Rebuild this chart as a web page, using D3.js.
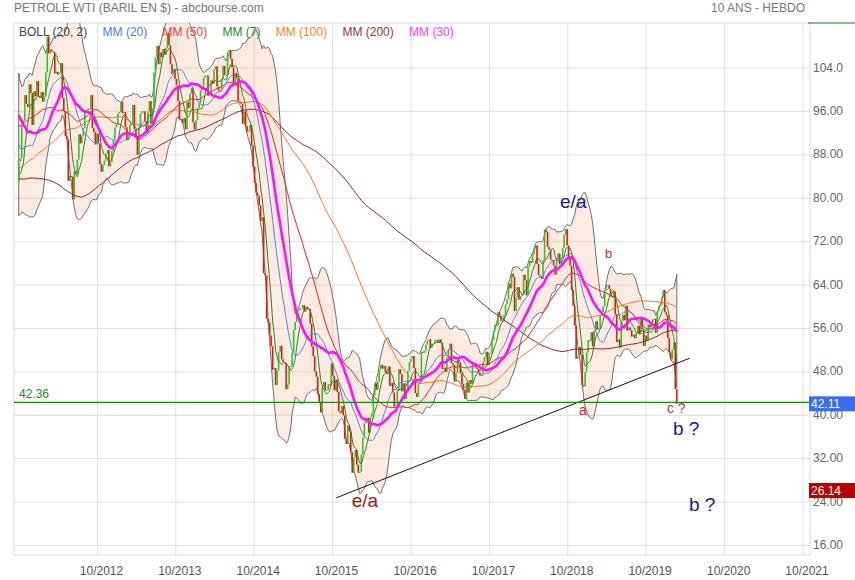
<!DOCTYPE html>
<html><head><meta charset="utf-8">
<script src="https://cdn.jsdelivr.net/npm/d3@7"></script>
<style>body{margin:0;background:#fff;} text{font-family:"Liberation Sans",Arial,sans-serif;}</style>
</head><body><svg id="c" width="855" height="580"></svg>
<script>
const titleText = "PETROLE WTI (BARIL EN $) - abcbourse.com";
const periodText = "10 ANS - HEBDO";

// weekly closes before the visible window (used for the moving averages), from 2007-12-14
const historyStart = "2007-12-14";
const historyCloses = [
91.3,93.3,96.0,
97.9,92.7,90.6,90.7,89.0, 91.8,95.5,98.8,101.8, 105.2,110.2,101.8,101.6, 106.2,110.1,116.7,118.5,
116.3,126.0,126.3,132.2,127.4, 138.5,134.9,134.6,140.2, 145.1,145.1,128.9,123.3, 125.1,115.2,113.8,114.6,115.5,
106.2,101.2,104.6,106.9, 93.9,77.7,71.9,64.2,67.8, 61.0,57.0,49.9,54.4, 40.8,46.3,42.4,37.7,
46.3,40.8,36.5,46.5,41.7, 40.2,37.5,38.9,44.8, 45.5,46.3,51.1,52.4, 52.5,50.1,50.3,51.6,
53.2,58.6,56.3,61.7,66.3, 68.4,72.0,69.6,69.2, 66.7,59.9,63.6,68.0,69.5, 70.9,67.5,73.9,72.7,
68.0,72.0,69.3,66.0, 69.9,71.8,78.5,80.5,77.0, 77.4,76.9,77.5,77.0, 75.5,69.9,73.4,78.1,
79.4,82.8,79.4,74.5,72.9, 71.2,74.1,80.0,79.7, 81.5,81.2,80.7,80.0, 84.9,84.3,83.2,85.1,86.2,
75.1,75.7,70.0,74.0, 71.5,73.8,77.2,78.9, 72.1,76.1,76.0,78.9,79.0, 80.7,75.4,73.5,75.2,
74.6,76.5,73.7,76.5, 81.6,82.7,81.3,81.7,81.4, 86.9,84.9,81.5,83.8, 89.2,87.8,88.0,91.5,91.4,
88.0,91.5,89.1,89.3, 89.0,85.6,86.2,97.9, 104.4,101.2,101.1,105.4, 107.9,112.8,109.7,112.3,113.9,
97.2,99.7,100.1,100.6, 100.2,99.3,93.0,91.2, 95.4,96.2,97.2,99.9,95.7, 86.9,85.4,82.3,85.4,
86.5,87.2,88.0,79.9,79.2, 83.0
];

// visible weekly closes, from 2011-10-14
const startDate = "2011-10-14";
const closes = [
// 2011
86.8,87.4,93.3, 94.3,99.0,97.4,96.8, 101.0,99.4,93.5,99.7,98.8,
// 2012
101.6,98.7,98.5,99.6, 97.8,98.7,103.2,109.8, 106.7,107.4,107.1,106.9,103.0, 103.3,102.8,103.1,104.9,
98.5,96.1,91.5,90.9, 83.2,84.1,84.0,79.8,85.0, 84.5,87.1,91.8,90.1, 91.4,92.9,96.0,96.2,96.5,
96.4,99.0,92.9,92.2, 89.9,91.9,90.1,86.3, 84.9,86.1,86.9,88.3,88.9, 85.9,86.7,88.7,90.8,
// 2013
93.1,93.6,95.6,95.9, 97.8,95.7,95.9,93.1, 90.7,92.0,93.5,93.7,97.2, 92.7,91.3,88.0,93.0,
95.6,96.0,96.0,94.2,92.0, 96.0,97.9,93.7,96.6, 103.2,106.0,108.1,104.7, 106.9,106.0,107.5,106.4,107.7,
110.5,108.2,104.7,102.9, 103.8,102.0,100.8,97.9, 94.6,94.6,93.8,94.8,92.7, 97.7,96.6,99.3,100.3,
// 2014
94.0,92.7,94.4,96.6,97.5, 99.9,100.3,102.2,102.6, 102.6,98.9,99.5,101.7, 101.1,103.7,104.3,100.6,
99.8,100.0,102.0,104.4,102.7, 102.7,106.9,107.3,105.7, 104.1,100.8,103.1,102.1, 97.9,97.7,97.4,93.7,96.0,
93.3,92.3,92.4,93.5, 89.7,85.8,82.8,81.0,80.5, 78.7,75.8,76.5,66.2, 65.8,57.8,57.1,54.7,
// 2015
52.7,48.4,48.7,45.6,48.2, 51.7,52.8,50.3,49.8, 49.6,44.8,45.7,48.9, 49.1,51.6,55.7,57.2,
59.2,59.4,59.7,59.7,60.3, 59.1,60.0,59.6,59.6, 56.9,52.7,50.9,48.1,47.1, 43.9,42.5,40.5,45.2,
46.1,44.6,44.7,45.7, 45.5,49.6,47.3,44.6,46.6, 44.3,40.7,40.4,41.7, 40.0,35.6,34.7,38.1,37.0,
// 2016
33.2,29.4,32.2,33.6, 30.9,29.4,29.6,32.8, 35.9,38.5,39.4,39.5, 36.8,39.7,40.4,43.7,45.9,
44.7,46.2,48.4,49.3, 48.6,49.1,48.0,47.6, 49.0,45.4,46.0,44.2,41.6, 41.8,44.5,48.5,47.6,
44.4,45.9,43.0,44.5,48.2, 49.8,50.4,50.9,48.7, 44.1,43.4,45.7,46.1, 51.7,51.5,51.9,53.0,53.7,
// 2017
54.0,52.4,53.2,53.2, 53.8,53.9,53.4,54.0, 53.3,48.5,48.8,48.0,50.6, 52.2,53.2,49.6,49.3,
46.2,47.8,50.3,49.8, 47.7,45.8,44.7,43.0,46.0, 44.2,46.5,45.8,49.7, 49.6,48.8,48.5,47.9,
47.3,47.5,49.9,50.7,51.7, 49.3,51.5,51.5,53.9, 55.6,56.7,56.6,59.0, 58.4,57.4,57.3,58.5,60.4,
// 2018
61.4,64.3,63.4,66.1, 65.5,59.2,61.7,63.6, 61.3,62.0,62.3,65.9,64.9, 62.1,67.4,68.4,68.1,
69.7,70.7,71.3,67.9, 65.8,65.7,65.1,68.6,74.2, 73.8,71.0,70.5,68.7, 68.5,67.6,65.9,68.7,69.8,
67.8,69.0,70.8,73.3, 74.3,71.3,69.1,67.6, 63.1,60.2,56.5,50.4,50.9, 52.6,51.2,45.6,45.3,
// 2019
48.0,51.6,53.8,53.7, 55.3,52.7,55.6,57.3, 55.8,56.1,58.5,59.0,60.1, 63.1,63.9,64.0,63.3,
61.9,61.7,62.8,58.6,53.5, 54.0,52.5,57.4,58.5, 57.5,60.2,55.6,56.2, 55.7,54.5,54.9,54.2,55.1,
56.5,54.9,58.1,55.9, 52.8,54.7,53.8,56.7, 56.2,57.2,57.7,57.8,55.2, 59.2,60.1,60.4,61.7,
// 2020
63.1,59.0,58.5,54.2,51.6, 50.3,52.1,53.4,44.8, 42.11
];

const yTickValues = [16,24,32,40,48,56,64,72,80,88,96,104];
const xTickYears = [2012,2013,2014,2015,2016,2017,2018,2019,2020,2021];
const levelValue = 42.36;
const lastValue = 42.11;
const minValue = 26.14;
const trendDates = ["2015-11-02","2020-05-04"];
const trendValues = [24.8, 50.5];

const legendLabels = ["BOLL (20, 2)","MM (20)","MM (50)","MM (7)","MM (100)","MM (200)","MM (30)"];
const legendColors = ["#444444","#4d7cf2","#f03c3c","#1e8c1e","#ff7f2a","#a03535","#ff40ff"];

const maPeriods = [200,100,50,20,7,30];
const maColors  = ["#8c1c1c","#ff7020","#e82020","#5080f0","#1a8a1a","#ff10ff"];
const maWidths  = [1,1,1,1,1,2.6];

const annoTexts  = ["e/a","e/a","b","a","c ?","b ?","b ?"];
const annoDates  = ["2018-09-09","2016-01-12","2019-04-07","2018-12-06","2020-01-20","2020-02-17","2020-05-02"];
const annoValues = [78.2,23.15,69.0,40.05,40.4,36.4,22.4];
const annoColors = ["#1a1a80","#aa1111","#cc2a2a","#cc2a2a","#d03030","#1a1a80","#1a1a80"];
const annoSizes  = [19,19,13,14,14,19,19];

// ---------------------------------------------------------------
const L = 14, R = 810, T = 23, B = 555;
const svg = d3.select("#c");
const x = d3.scaleTime().domain([new Date(2012,9,15), new Date(2021,9,15)]).range([97.5, 803]);
const y = d3.scaleLinear().domain([16,104]).range([545.5, 68]);

const H = historyCloses.length;
const all = historyCloses.concat(closes);
const start = d3.isoParse(startDate);
const dates = closes.map((c,i) => d3.timeDay.offset(start, 7*i));

function sma(n){
  return closes.map((c,i) => {
    const g = H + i;
    return d3.mean(all.slice(g-n+1, g+1));
  });
}
const mid = sma(20);
const band = closes.map((c,i) => {
  const g = H + i;
  const w = all.slice(g-19, g+1);
  const sd = Math.sqrt(d3.mean(w, v => (v-mid[i])**2));
  return {d: dates[i], up: mid[i]+2*sd, lo: mid[i]-2*sd};
});

svg.append("defs").append("clipPath").attr("id","clip")
  .append("rect").attr("x",L).attr("y",T).attr("width",R-L).attr("height",B-T);

// grid
const g0 = svg.append("g");
g0.selectAll(".hg").data(yTickValues).join("line")
  .attr("x1",L).attr("x2",R).attr("y1",d=>y(d)).attr("y2",d=>y(d))
  .attr("stroke","#e0e0e0").attr("stroke-width",1);
g0.selectAll(".vg").data(xTickYears).join("line")
  .attr("x1",d=>x(new Date(d,9,15))).attr("x2",d=>x(new Date(d,9,15)))
  .attr("y1",T).attr("y2",B).attr("stroke","#e0e0e0").attr("stroke-width",1);
g0.append("rect").attr("x",L).attr("y",T).attr("width",R-L).attr("height",B-T)
  .attr("fill","none").attr("stroke","#dcdcdc");

const plot = svg.append("g").attr("clip-path","url(#clip)");

// bollinger band
plot.append("path").datum(band)
  .attr("d", d3.area().x(d=>x(d.d)).y0(d=>y(d.lo)).y1(d=>y(d.up)).curve(d3.curveLinear))
  .attr("fill","rgba(250,195,165,0.33)").attr("stroke","#6e6e6e").attr("stroke-width",1);

// candles (open = previous close)
plot.selectAll(".cd").data(closes).join("rect")
  .attr("x",(c,i)=>x(dates[i])-0.8)
  .attr("width",1.6)
  .attr("y",(c,i)=>{const o = all[H+i-1]; return y(Math.max(o,c));})
  .attr("height",(c,i)=>{const o = all[H+i-1]; return Math.max(1, Math.abs(y(o)-y(c)));})
  .attr("fill",(c,i)=> c >= all[H+i-1] ? "#2ec42e" : "#e01a10");

// moving averages
maPeriods.forEach((n,k)=>{
  const vals = sma(n);
  plot.append("path").datum(vals)
    .attr("d", d3.line().x((v,i)=>x(dates[i])).y(v=>y(v)).curve(d3.curveMonotoneX))
    .attr("fill","none").attr("stroke",maColors[k]).attr("stroke-width",maWidths[k]);
});

// level line
svg.append("line").attr("x1",L).attr("x2",R).attr("y1",y(levelValue)).attr("y2",y(levelValue))
  .attr("stroke","#1a8a1a").attr("stroke-width",1.2);
svg.append("text").attr("x",19).attr("y",y(levelValue)-4).attr("fill","#2a8a2a")
  .attr("font-size",12).text(levelValue.toFixed(2));
svg.append("line").attr("x1",808).attr("x2",855).attr("y1",T).attr("y2",T)
  .attr("stroke","#1a7a1a").attr("stroke-width",1);

// trend line
plot.append("line")
  .attr("x1",x(d3.isoParse(trendDates[0]))).attr("y1",y(trendValues[0]))
  .attr("x2",x(d3.isoParse(trendDates[1]))).attr("y2",y(trendValues[1]))
  .attr("stroke","#111").attr("stroke-width",1);

// annotations
annoTexts.forEach((t,i)=>{
  svg.append("text").attr("x",x(d3.isoParse(annoDates[i]))).attr("y",y(annoValues[i]))
    .attr("fill",annoColors[i]).attr("font-size",annoSizes[i]).text(t);
});

// legend
let lx = 19;
legendLabels.forEach((t,i)=>{
  const tx = svg.append("text").attr("x",lx).attr("y",36).attr("fill",legendColors[i])
    .attr("font-size",12).text(t);
  lx += tx.node().getComputedTextLength() + 15.3;
});

// axes labels
svg.selectAll(".yl").data(yTickValues).join("text")
  .attr("x",813).attr("y",d=>y(d)+3.5).attr("fill","#666").attr("font-size",12)
  .text(d=>d3.format(".4r")(d));
svg.selectAll(".xl").data(xTickYears).join("text")
  .attr("x",d=>x(new Date(d,9,15))+4).attr("y",575).attr("text-anchor","middle")
  .attr("fill","#555").attr("font-size",12).text(d=>"10/"+d);

// value tags
[[lastValue,"#3a6cf4"],[minValue,"#b80000"]].forEach(([v,col])=>{
  svg.append("rect").attr("x",809).attr("y",y(v)-7.5).attr("width",46).attr("height",15).attr("fill",col);
  svg.append("text").attr("x",811).attr("y",y(v)+4.5).attr("fill","#fff").attr("font-size",12)
    .text(v.toFixed(2));
});

// titles
svg.append("text").attr("x",14).attr("y",12).attr("fill","#777").attr("font-size",12).text(titleText);
svg.append("text").attr("x",805).attr("y",12).attr("text-anchor","end").attr("fill","#777")
  .attr("font-size",12).text(periodText);
</script></body></html>
